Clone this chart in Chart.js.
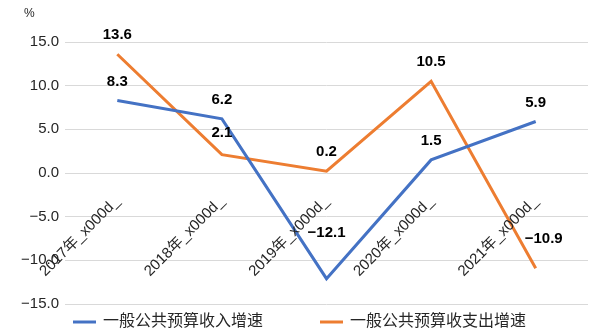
<!DOCTYPE html>
<html>
<head>
<meta charset="utf-8">
<script src="https://cdn.jsdelivr.net/npm/chart.js@4"></script>
<style>
  html, body { margin: 0; padding: 0; background: #fff; }
  #wrap { width: 589px; height: 336px; }
</style>
</head>
<body>
<div id="wrap"><canvas id="myChart" width="589" height="336"></canvas></div>
<script>
// data
var years = ['2017年_x000d_', '2018年_x000d_', '2019年_x000d_', '2020年_x000d_', '2021年_x000d_'];
var incomeGrowth = [8.3, 6.2, -12.1, 1.5, 5.9];
var spendGrowth = [13.6, 2.1, 0.2, 10.5, -10.9];
var seriesNames = ['一般公共预算收入增速', '一般公共预算收支出增速'];
var yTicks = [-15, -10, -5, 0, 5, 10, 15];

var FONT = "'Liberation Sans', 'Noto Sans CJK SC', sans-serif";

function fmt(v) {
    var s = Math.abs(v).toFixed(1);
    return v < 0 ? '\u2212' + s : s;
}

// labels above the points, category names next to the zero line, legend and unit
var extras = {
    id: 'extras',
    afterDatasetsDraw: function(chart, args, opts) {
        var ctx = chart.ctx;
        var xs = chart.scales.x, ys = chart.scales.y;

        // value labels
        ctx.save();
        ctx.font = 'bold 15px ' + FONT;
        ctx.fillStyle = '#000';
        ctx.textAlign = 'center';
        ctx.textBaseline = 'middle';
        chart.data.datasets.forEach(function(ds, di) {
            var meta = chart.getDatasetMeta(di);
            meta.data.forEach(function(pt, i) {
                var off = (opts.offsets[di] && opts.offsets[di][i]) || [0, 19];
                ctx.fillText(fmt(ds.data[i]), pt.x + off[0], pt.y - off[1]);
            });
        });
        ctx.restore();

        // category labels, rotated, ending just below the zero line
        ctx.save();
        ctx.font = '15px ' + FONT;
        ctx.fillStyle = '#262626';
        ctx.textAlign = 'right';
        ctx.textBaseline = 'middle';
        var y0 = ys.getPixelForValue(0) + 26;
        chart.data.labels.forEach(function(lab, i) {
            var x = xs.getPixelForValue(i);
            ctx.save();
            ctx.translate(x, y0);
            ctx.rotate(-Math.PI / 4);
            ctx.fillText(lab, 0, 0);
            ctx.restore();
        });
        ctx.restore();

        // unit
        ctx.save();
        ctx.font = '12px ' + FONT;
        ctx.fillStyle = '#262626';
        ctx.textAlign = 'left';
        ctx.textBaseline = 'middle';
        ctx.fillText('%', 24, 14);
        ctx.restore();

        // legend
        ctx.save();
        ctx.font = '16px ' + FONT;
        ctx.textBaseline = 'middle';
        ctx.textAlign = 'left';
        var lineW = 23, gapText = 7, gapItem = 57;
        var widths = chart.data.datasets.map(function(ds) {
            return lineW + gapText + ctx.measureText(ds.label).width;
        });
        var total = widths[0] + gapItem + widths[1];
        var lx = (chart.width - total) / 2 + 5;
        var ly = 322;
        chart.data.datasets.forEach(function(ds, di) {
            ctx.strokeStyle = ds.borderColor;
            ctx.lineWidth = 3;
            ctx.beginPath();
            ctx.moveTo(lx, ly);
            ctx.lineTo(lx + lineW, ly);
            ctx.stroke();
            ctx.fillStyle = '#262626';
            ctx.fillText(ds.label, lx + lineW + gapText, ly);
            lx += widths[di] + gapItem;
        });
        ctx.restore();
    }
};

var ctx = document.getElementById('myChart').getContext('2d');
var chart = new Chart(ctx, {
    type: 'line',
    data: {
        labels: years,
        datasets: [{
            label: seriesNames[0],
            data: incomeGrowth,
            borderColor: '#4472C4',
            backgroundColor: '#4472C4',
            borderWidth: 3,
            pointRadius: 0,
            tension: 0
        }, {
            label: seriesNames[1],
            data: spendGrowth,
            borderColor: '#ED7D31',
            backgroundColor: '#ED7D31',
            borderWidth: 3,
            pointRadius: 0,
            tension: 0
        }]
    },
    options: {
        responsive: false,
        animation: false,
        layout: { padding: { top: 42, bottom: 32, left: 0, right: 1 } },
        plugins: {
            legend: { display: false },
            tooltip: { enabled: false },
            extras: {
                offsets: [
                    [null, null, [0, 46], null, null],
                    [null, [0, 22], null, null, [8, 29]]
                ]
            }
        },
        scales: {
            x: {
                type: 'category',
                offset: true,
                display: false
            },
            y: {
                min: -15,
                max: 15,
                afterBuildTicks: function(scale) {
                    scale.ticks = yTicks.map(function(v) { return { value: v }; });
                },
                afterFit: function(scale) { scale.width = 65; },
                border: { display: false },
                grid: { color: '#d9d9d9', lineWidth: 1, drawTicks: false },
                ticks: {
                    padding: 6,
                    color: '#262626',
                    font: { family: FONT, size: 15 },
                    callback: function(v) { return fmt(v); }
                }
            }
        }
    },
    plugins: [extras]
});
</script>
</body>
</html>
